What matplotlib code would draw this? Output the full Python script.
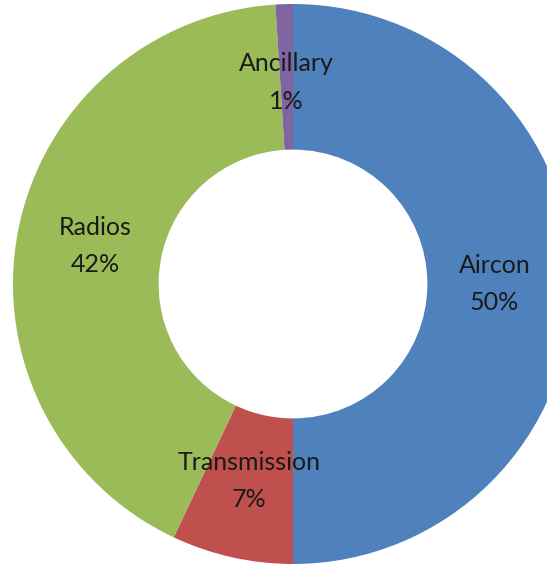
import numpy as np
import matplotlib
matplotlib.use("Agg")
import matplotlib.pyplot as plt

categories = ["Aircon", "Transmission", "Radios", "Ancillary"]
values = [50, 7, 42, 1]
colors = ["#4F81BD", "#C0504D", "#9BBB59", "#8064A2"]

W, H = 547, 566
fig = plt.figure(figsize=(W / 100, H / 100), dpi=100)
ax = fig.add_axes([0, 0, 1, 1])

R = 280.0
cx, cy = 293.0, 284.0
wedges, _ = ax.pie(values, colors=colors, startangle=90, counterclock=False,
                   radius=1.0, wedgeprops=dict(width=0.52, linewidth=0))
ax.set_aspect("auto")
ax.set_xlim(-cx / R, (W - cx) / R)
ax.set_ylim(-(H - cy) / R, cy / R)
ax.axis("off")

label_r = 0.72
for w, name, v in zip(wedges, categories, values):
    ang = np.deg2rad((w.theta1 + w.theta2) / 2)
    x, y = label_r * np.cos(ang), label_r * np.sin(ang)
    ax.text(x, y, f"{name}\n{v}%", ha="center", va="center", fontsize=18,
            family="Lato", color="#1a1a1a", linespacing=1.75)

fig.savefig("out.png", dpi=100)
